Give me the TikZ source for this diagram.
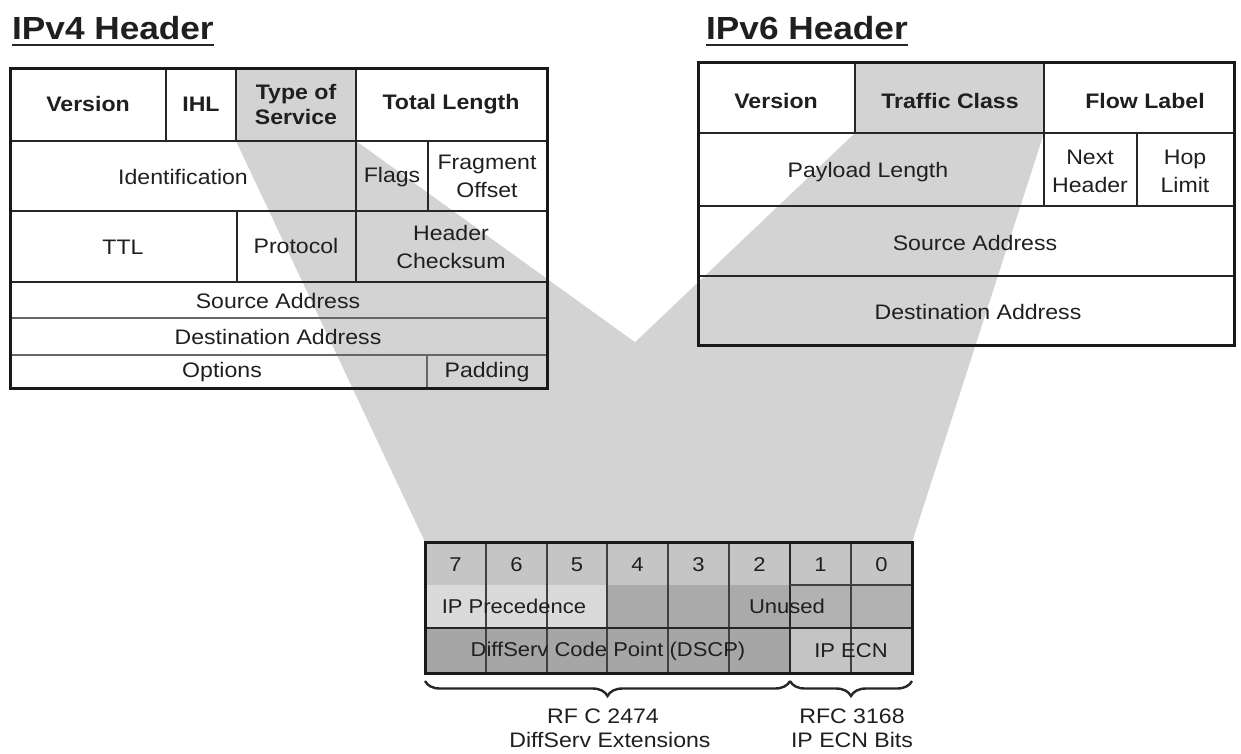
\documentclass[tikz,border=0pt]{standalone}
\usepackage{fontspec}
\setmainfont{Liberation Sans}[FakeStretch=1.1]
\usetikzlibrary{decorations.pathreplacing}
\definecolor{funnel}{RGB}{211,211,211}
\definecolor{numrow}{RGB}{197,197,197}
\definecolor{precrow}{RGB}{218,218,218}
\definecolor{darkcell}{RGB}{170,170,170}
\definecolor{midcell}{RGB}{178,178,178}
\definecolor{dscpcell}{RGB}{166,166,166}
\definecolor{ecncell}{RGB}{196,196,196}
\begin{document}
\begin{tikzpicture}[x=1pt,y=-1pt,
  every node/.style={inner sep=0pt, text=black!88},
  cell/.style={font=\fontsize{21}{28}\selectfont, align=center},
  hcell/.style={font=\fontsize{21}{25}\selectfont\bfseries, align=center},
  bit/.style={font=\fontsize{20}{24}\selectfont},
  captext/.style={font=\fontsize{21}{26}\selectfont, align=center},
  titletext/.style={font=\fontsize{32}{36}\selectfont\bfseries, anchor=base west},
  frame/.style={line width=3pt, black!90},
  gridline/.style={line width=1.8pt, black!85},
  softline/.style={line width=1.6pt, black!60},
  bitline/.style={line width=1.2pt, black!75},
  bracestyle/.style={decorate, decoration={brace, mirror, amplitude=15pt}, line width=2.4pt, black!85},
]
\useasboundingbox (0,0) rectangle (1241,753);

% ---------- key coordinates ----------
\coordinate (tosTL) at (236,68);  \coordinate (tosTR) at (356,68);
\coordinate (tosBL) at (236,141); \coordinate (tosBR) at (356,141);
\coordinate (tcTL) at (855,62);   \coordinate (tcTR) at (1044,62);
\coordinate (tcBL) at (855,133);  \coordinate (tcBR) at (1044,133);
\coordinate (bitTL) at (425,542); \coordinate (bitTR) at (912,542);

% ---------- gray funnels ----------
\fill[funnel] (tosTL) -- (tosTR) -- (tosBR) -- (bitTR) -- (bitTL) -- (tosBL) -- cycle;
\fill[funnel] (tcTL) -- (tcTR) -- (tcBR) -- (bitTR) -- (bitTL) -- (tcBL) -- cycle;

% ---------- titles ----------
\node[titletext] (t4) at (12,39) {IPv4 Header};
\draw[line width=2pt, black!85] ([yshift=-6pt]t4.base west) -- ([yshift=-6pt]t4.base east);
\node[titletext] (t6) at (706,39) {IPv6 Header};
\draw[line width=2pt, black!85] ([yshift=-6pt]t6.base west) -- ([yshift=-6pt]t6.base east);

% ---------- IPv4 table ----------
\draw[gridline] (10,141) -- (547,141);
\draw[gridline] (10,211) -- (547,211);
\draw[gridline] (10,282) -- (547,282);
\draw[softline] (10,318) -- (547,318);
\draw[softline] (10,355) -- (547,355);
\draw[gridline] (166,68) -- (166,141);
\draw[gridline] (236,68) -- (236,141);
\draw[gridline] (356,68) -- (356,282);
\draw[gridline] (428,141) -- (428,211);
\draw[gridline] (237,211) -- (237,282);
\draw[softline] (427,355) -- (427,388);
\draw[frame] (10,68) rectangle (547,388);

\node[hcell] (v4ver) at (88,104) {Version};
\node[hcell] (v4ihl) at (201,104) {IHL};
\node[hcell] (v4tos) at (296,104) {Type of\\Service};
\node[hcell] (v4tot) at (451,104) {Total Length};
\node[cell] (v4id) at (183,177) {Identification};
\node[cell] (v4flg) at (392,177) {Flags};
\node[cell] (v4frag) at (487,176) {Fragment\\Offset};
\node[cell] (v4ttl) at (123,247) {TTL};
\node[cell] (v4proto) at (296,246) {Protocol};
\node[cell] (v4chk) at (451,247) {Header\\Checksum};
\node[cell] (v4src) at (278,301) {Source Address};
\node[cell] (v4dst) at (278,337) {Destination Address};
\node[cell] (v4opt) at (222,372) {Options};
\node[cell] (v4pad) at (487,372) {Padding};

% ---------- IPv6 table ----------
\draw[gridline] (698,133) -- (1234,133);
\draw[gridline] (698,206) -- (1234,206);
\draw[gridline] (698,276) -- (1234,276);
\draw[gridline] (855,62) -- (855,133);
\draw[gridline] (1044,62) -- (1044,206);
\draw[gridline] (1137,133) -- (1137,206);
\draw[frame] (698,62) rectangle (1234,345);

\node[hcell] (v6ver) at (776,101) {Version};
\node[hcell] (v6tc) at (950,101) {Traffic Class};
\node[hcell] (v6fl) at (1145,101) {Flow Label};
\node[cell] (v6pl) at (868,172) {Payload Length};
\node[cell] (v6nh) at (1090,171) {Next\\Header};
\node[cell] (v6hl) at (1185,171) {Hop\\Limit};
\node[cell] (v6src) at (975,243) {Source Address};
\node[cell] (v6dst) at (978,312) {Destination Address};

% ---------- bit table ----------
\fill[numrow] (425,542) rectangle (912,585);
\fill[precrow] (425,585) rectangle (607,628);
\fill[darkcell] (607,585) rectangle (790,628);
\fill[midcell] (790,585) rectangle (912,628);
\fill[dscpcell] (425,628) rectangle (790,673);
\fill[ecncell] (790,628) rectangle (912,673);
\foreach \xx in {486,547,607,668,729,851} {
  \draw[bitline] (\xx,542) -- (\xx,673);
}
\draw[line width=2pt, black!85] (790,542) -- (790,673);
\draw[bitline] (790,585) -- (912,585);
\draw[line width=2pt, black!85] (425,628) -- (912,628);
\draw[frame] (425,542) rectangle (912,673);

\node[bit] (b7) at (455.5,565) {7};
\node[bit] (b6) at (516.5,565) {6};
\node[bit] (b5) at (577,565) {5};
\node[bit] (b4) at (637.5,565) {4};
\node[bit] (b3) at (698.5,565) {3};
\node[bit] (b2) at (759.5,565) {2};
\node[bit] (b1) at (820.5,565) {1};
\node[bit] (b0) at (881.5,565) {0};
\node[bit] (prec) at (514,606) {IP Precedence};
\node[bit] (unused) at (787,606) {Unused};
\node[bit] (dscp) at (608,651) {DiffServ Code Point (DSCP)};
\node[bit] (ecn) at (851,651) {IP ECN};

% ---------- braces ----------
\coordinate (brL) at (425,681);
\coordinate (brM) at (790,681);
\coordinate (brR) at (912,681);
\draw[bracestyle] (brL) -- (brM);
\draw[bracestyle] (brM) -- (brR);

\node[captext] (rfc1) at (603,716) {RF C 2474};
\node[captext] (rfc1b) at (610,740) {DiffServ Extensions};
\node[captext] (rfc2) at (852,716) {RFC 3168};
\node[captext] (rfc2b) at (852,740) {IP ECN Bits};
\end{tikzpicture}
\end{document}
